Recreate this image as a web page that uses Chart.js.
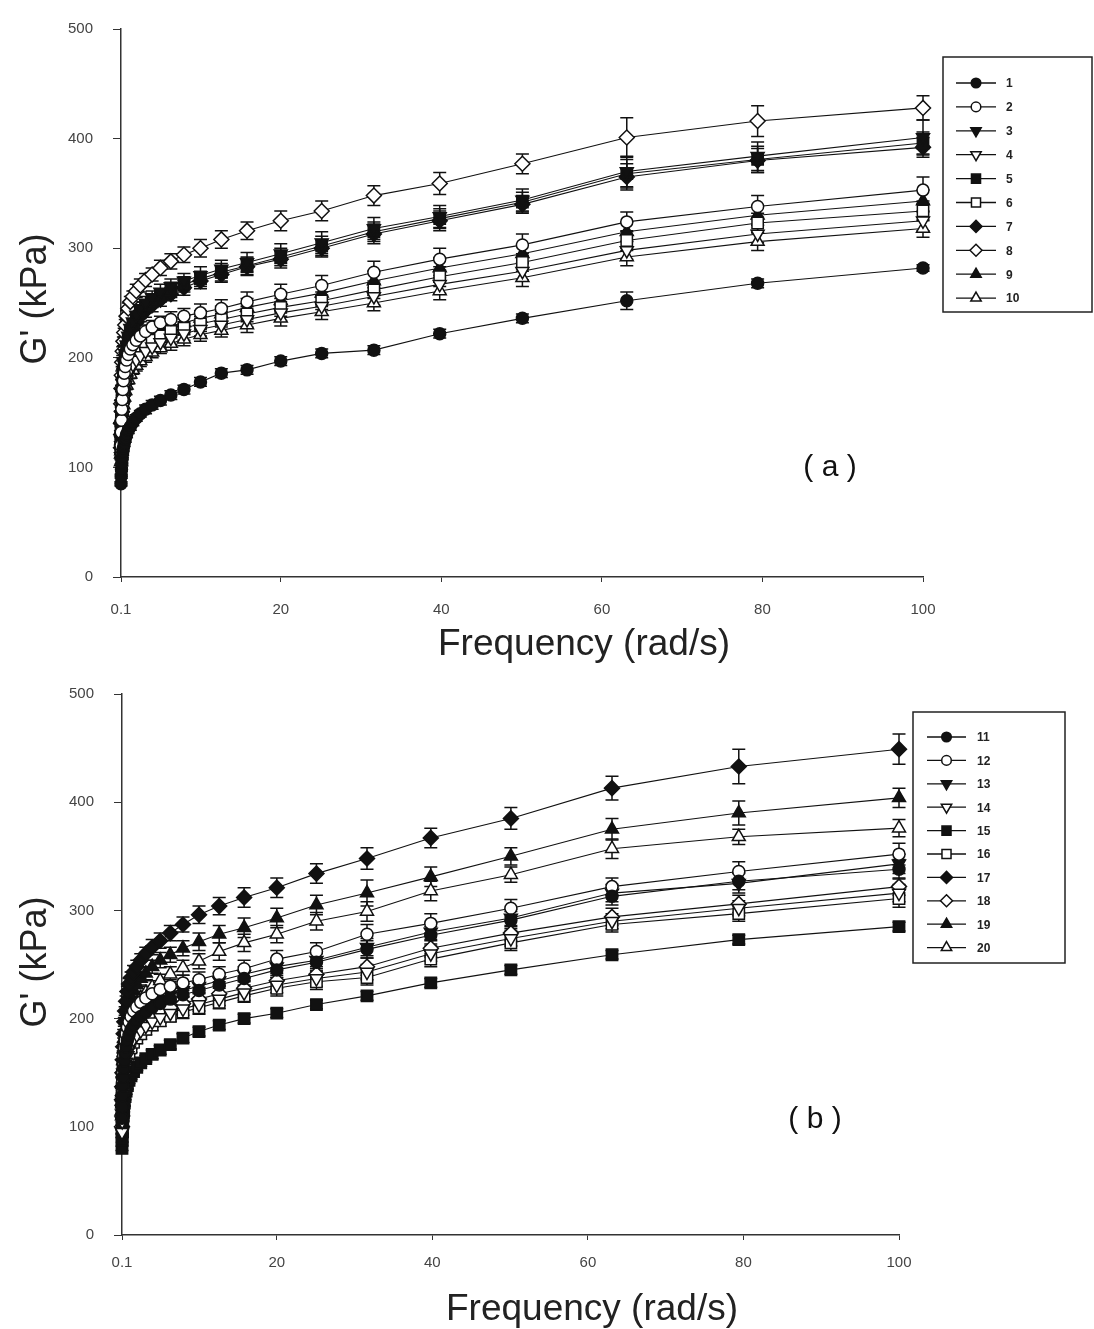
<!DOCTYPE html>
<html>
<head>
<meta charset="utf-8">
<script src="https://cdn.jsdelivr.net/npm/chart.js@4.4.0/dist/chart.umd.min.js"></script>
<style>
html,body{margin:0;padding:0;background:#fff;}
#wrap{position:relative;width:1094px;height:1329px;overflow:hidden;background:#fff;}
canvas{position:absolute;left:0;}
#c1{top:0;}
#c2{top:665px;}
</style>
</head>
<body>
<div id="wrap">
<canvas id="c1" width="1094" height="665"></canvas>
<canvas id="c2" width="1094" height="664"></canvas>
</div>
<script>
// ---------------- DATA ----------------
const freq = [0.1,0.126,0.158,0.2,0.251,0.316,0.398,0.501,0.631,0.794,1,1.26,1.58,2,2.51,3.16,3.98,5.01,6.31,7.94,10,12.6,15.8,20,25.1,31.6,39.8,50.1,63.1,79.4,100];
const xTicks = [0.1,20,40,60,80,100];
const yTicks = [0,100,200,300,400,500];
const labelsTop = ['1','2','3','4','5','6','7','8','9','10'];
const labelsBottom = ['11','12','13','14','15','16','17','18','19','20'];

// panel (a) G' values (kPa)
const g1  = [85,92,98,104,109,114,118,122,126,130,134,137,141,145,149,153,157,161,166,171,178,186,189,197,204,207,222,236,252,268,282];
const g2  = [120,132,143,153,162,171,179,186,192,198,203,208,212,216,220,224,228,232,235,238,241,245,251,258,266,278,290,303,324,338,353];
const g3  = [125,137,148,158,168,178,187,196,204,212,220,227,233,239,245,250,255,260,265,270,275,281,287,295,305,318,329,344,370,384,401];
const g4  = [110,120,130,139,147,155,162,169,175,180,185,190,194,198,202,206,210,214,218,222,226,230,235,241,247,256,267,279,298,313,325];
const g5  = [122,134,145,155,165,175,184,193,201,209,217,224,230,236,242,247,252,257,262,267,272,278,284,292,302,315,327,342,368,381,396];
const g6  = [115,126,136,145,153,161,168,175,181,186,191,196,200,204,208,212,216,220,224,227,231,235,240,246,252,262,274,287,307,323,334];
const g7  = [118,130,141,151,161,171,180,189,197,205,213,220,226,232,238,243,248,253,258,264,270,276,283,290,300,313,325,340,365,380,392];
const g8  = [140,158,172,184,196,206,215,223,230,238,245,251,256,261,266,271,276,282,288,294,300,308,316,325,334,348,359,377,401,416,428];
const g9  = [112,124,135,145,154,163,171,178,184,190,195,200,205,209,213,217,221,225,229,232,236,240,246,252,259,270,282,295,315,330,343];
const g10 = [105,115,125,134,142,150,157,164,170,175,180,185,189,193,197,201,205,209,213,217,221,225,230,236,242,250,261,273,292,306,318];

// panel (a) error bars (kPa)
const e1  = [2,2,2,2,2,3,3,3,3,3,3,3,3,3,3,4,4,4,4,4,4,4,4,4,4,4,4,4,8,4,3];
const e2  = [3,3,3,3,4,4,4,4,4,5,5,5,5,5,6,6,6,6,7,7,8,8,9,9,9,10,10,10,9,10,12];
const e3  = [3,3,3,3,4,4,4,4,4,5,5,5,5,5,6,6,6,7,7,7,8,8,9,9,10,10,10,10,14,13,16];
const e4  = [2,2,3,3,3,3,4,4,4,4,4,4,5,5,5,5,5,6,6,6,6,7,7,7,8,8,8,8,8,8,9];
const e5  = [3,3,3,3,4,4,4,4,4,4,5,5,5,5,5,6,6,6,7,7,7,8,8,8,9,9,9,9,13,12,10];
const e6  = [3,3,3,3,3,4,4,4,4,4,4,5,5,5,5,5,6,6,6,6,7,7,7,8,8,8,9,8,9,9,9];
const e7  = [3,3,3,3,3,4,4,4,4,4,5,5,5,5,5,6,6,6,6,7,7,7,8,8,8,9,9,8,12,11,9];
const e8  = [3,3,3,4,4,4,4,4,5,5,5,5,5,6,6,6,6,7,7,7,8,8,8,9,9,9,10,9,18,14,11];
const e9  = [3,3,3,3,3,4,4,4,4,4,5,5,5,5,5,5,6,6,6,7,7,7,8,8,8,9,9,9,9,9,10];
const e10 = [2,2,3,3,3,3,3,4,4,4,4,4,4,5,5,5,5,5,6,6,6,6,7,7,7,7,8,8,8,8,8];

// panel (b) G' values (kPa)
const g11 = [108,119,129,138,146,154,161,168,174,180,185,190,194,198,202,206,210,214,218,222,226,231,237,245,252,264,277,291,313,327,338];
const g12 = [120,131,141,150,158,166,173,180,186,192,197,202,207,211,215,219,223,227,230,233,236,241,246,255,262,278,288,302,322,336,352];
const g13 = [112,123,133,142,150,158,165,172,178,184,189,194,198,202,206,210,214,218,222,226,230,235,241,248,254,266,280,293,316,325,343];
const g14 = [95,105,115,124,132,140,147,154,160,166,171,176,181,185,189,193,197,201,205,209,213,218,224,231,237,243,260,274,290,302,316];
const g15 = [80,88,96,103,110,116,122,128,133,138,143,147,151,155,159,163,167,171,176,182,188,194,200,205,213,221,233,245,259,273,285];
const g16 = [92,102,112,121,129,137,144,151,157,163,168,173,178,182,186,190,194,198,202,206,210,215,221,228,234,238,255,270,287,297,311];
const g17 = [125,137,150,162,174,186,197,207,216,225,232,238,243,248,254,260,266,272,279,287,296,304,312,321,334,348,367,385,413,433,449];
const g18 = [100,110,120,129,137,145,152,159,165,171,176,181,186,190,194,198,202,206,210,214,218,223,228,235,241,248,265,279,294,306,322];
const g19 = [115,127,139,150,161,172,182,191,199,207,214,220,226,231,237,242,248,254,259,265,271,278,284,293,305,316,331,350,375,390,404];
const g20 = [110,121,132,142,152,161,170,178,185,192,198,204,209,214,219,224,229,235,241,247,253,262,270,278,290,299,318,333,357,368,376];

// panel (b) error bars (kPa)
const e11 = [3,3,3,3,3,3,4,4,4,4,4,5,5,5,5,5,6,6,6,6,7,7,7,7,8,8,8,8,8,8,9];
const e12 = [3,3,3,3,3,4,4,4,4,4,5,5,5,5,5,6,6,6,6,7,7,7,8,8,8,9,9,8,8,9,10];
const e13 = [3,3,3,3,3,3,4,4,4,4,4,5,5,5,5,5,6,6,6,6,7,7,7,8,8,8,8,8,8,9,9];
const e14 = [2,2,3,3,3,3,3,4,4,4,4,4,5,5,5,5,5,5,6,6,6,6,7,7,7,7,7,7,7,7,8];
const e15 = [2,2,2,2,2,2,3,3,3,3,3,3,3,3,3,3,4,4,4,4,4,4,4,4,4,4,4,4,4,4,4];
const e16 = [2,2,2,3,3,3,3,3,4,4,4,4,4,5,5,5,5,5,5,6,6,6,6,7,7,7,7,7,7,7,8];
const e17 = [3,3,3,3,4,4,4,4,5,5,5,5,6,6,6,6,7,7,7,7,8,8,9,9,9,10,9,10,11,16,14];
const e18 = [2,2,3,3,3,3,3,4,4,4,4,4,5,5,5,5,5,6,6,6,6,7,7,7,7,8,8,7,8,8,8];
const e19 = [3,3,3,3,4,4,4,4,4,5,5,5,5,6,6,6,6,7,7,7,8,8,9,9,9,12,9,8,10,11,9];
const e20 = [3,3,3,3,3,4,4,4,4,4,5,5,5,5,6,6,6,6,7,7,7,8,8,8,8,9,9,7,9,7,8];

const valuesTop = [g1,g2,g3,g4,g5,g6,g7,g8,g9,g10];
const errorsTop = [e1,e2,e3,e4,e5,e6,e7,e8,e9,e10];
const valuesBottom = [g11,g12,g13,g14,g15,g16,g17,g18,g19,g20];
const errorsBottom = [e11,e12,e13,e14,e15,e16,e17,e18,e19,e20];

// ---------------- STYLE ----------------
const INK = '#111';
const FONT = "'Liberation Sans', Arial, Helvetica, sans-serif";
// ● ○ ▼ ▽ ■ □ ◆ ◇ ▲ △
const markers = [
  {style:'circle',   rot:0,   fill:true,  r:6},
  {style:'circle',   rot:0,   fill:false, r:6},
  {style:'triangle', rot:180, fill:true,  r:7.5},
  {style:'triangle', rot:180, fill:false, r:7.5},
  {style:'rect',     rot:0,   fill:true,  r:8},
  {style:'rect',     rot:0,   fill:false, r:8},
  {style:'rectRot',  rot:0,   fill:true,  r:7.5},
  {style:'rectRot',  rot:0,   fill:false, r:7.5},
  {style:'triangle', rot:0,   fill:true,  r:7.5},
  {style:'triangle', rot:0,   fill:false, r:7.5}
];

function drawMarker(ctx, m, x, y, r){
  ctx.save();
  ctx.translate(x, y);
  ctx.rotate(m.rot * Math.PI / 180);
  ctx.beginPath();
  if (m.style === 'circle') {
    ctx.arc(0, 0, r, 0, Math.PI * 2);
  } else if (m.style === 'rect') {
    const s = r * Math.SQRT1_2;
    ctx.rect(-s, -s, 2 * s, 2 * s);
  } else if (m.style === 'rectRot') {
    ctx.moveTo(0, -r); ctx.lineTo(r, 0); ctx.lineTo(0, r); ctx.lineTo(-r, 0); ctx.closePath();
  } else if (m.style === 'triangle') {
    const a = Math.PI / 6;
    ctx.moveTo(0, -r);
    ctx.lineTo(r * Math.cos(a), r * Math.sin(a));
    ctx.lineTo(-r * Math.cos(a), r * Math.sin(a));
    ctx.closePath();
  }
  ctx.fillStyle = m.fill ? INK : '#fff';
  ctx.fill();
  ctx.lineWidth = 1.5;
  ctx.strokeStyle = INK;
  ctx.stroke();
  ctx.restore();
}

const errorBarPlugin = {
  id: 'errorBars',
  beforeDatasetsDraw(chart) {
    const ctx = chart.ctx;
    const ys = chart.scales.y;
    ctx.save();
    ctx.strokeStyle = INK;
    ctx.lineWidth = 1.5;
    chart.data.datasets.forEach((ds, i) => {
      const meta = chart.getDatasetMeta(i);
      meta.data.forEach((pt, j) => {
        const v = ds.data[j].y, e = ds.errors[j];
        const yt = ys.getPixelForValue(v + e), yb = ys.getPixelForValue(v - e);
        const x = pt.x, cw = 6.5;
        ctx.beginPath();
        ctx.moveTo(x, yt); ctx.lineTo(x, yb);
        ctx.moveTo(x - cw, yt); ctx.lineTo(x + cw, yt);
        ctx.moveTo(x - cw, yb); ctx.lineTo(x + cw, yb);
        ctx.stroke();
      });
    });
    ctx.restore();
  }
};

const decorPlugin = {
  id: 'decor',
  afterDraw(chart, args, o) {
    const ctx = chart.ctx;
    ctx.save();
    ctx.fillStyle = '#222';
    ctx.textAlign = 'center';
    ctx.textBaseline = 'middle';
    ctx.font = o.xTitleFont + 'px ' + FONT;
    ctx.fillText('Frequency (rad/s)', o.xTitle[0], o.xTitle[1]);
    ctx.save();
    ctx.translate(o.yTitle[0], o.yTitle[1]);
    ctx.rotate(-Math.PI / 2);
    ctx.font = o.yTitleFont + 'px ' + FONT;
    ctx.fillText("G' (kPa)", 0, 0);
    ctx.restore();
    ctx.font = o.tagFont + 'px ' + FONT;
    ctx.fillStyle = '#111';
    ctx.fillText(o.tag, o.tagPos[0], o.tagPos[1]);
    const L = o.legend;
    ctx.strokeStyle = '#222';
    ctx.lineWidth = 1.5;
    ctx.strokeRect(L.left, L.top, L.right - L.left, L.bottom - L.top);
    chart.data.datasets.forEach((ds, i) => {
      const y = L.row0 + i * L.step;
      ctx.beginPath();
      ctx.lineWidth = 1.3;
      ctx.strokeStyle = INK;
      ctx.moveTo(L.lineX0, y); ctx.lineTo(L.lineX1, y);
      ctx.stroke();
      drawMarker(ctx, markers[i], (L.lineX0 + L.lineX1) / 2, y, markers[i].r * 0.8);
      ctx.fillStyle = '#222';
      ctx.textAlign = 'left';
      ctx.font = 'bold 12px ' + FONT;
      ctx.fillText(ds.label, L.textX, y + 1);
    });
    ctx.restore();
  }
};

function makePanel(canvasId, values, errors, labels, geo) {
  const datasets = values.map((vals, i) => {
    const m = markers[i];
    return {
      label: labels[i],
      data: freq.map((f, j) => ({x: f, y: vals[j]})),
      errors: errors[i],
      showLine: true,
      clip: false,
      borderColor: INK,
      borderWidth: 1.1,
      pointStyle: m.style,
      pointRotation: m.rot,
      pointRadius: m.r,
      pointBorderWidth: 1.5,
      pointBorderColor: INK,
      pointBackgroundColor: m.fill ? INK : '#fff',
      tension: 0
    };
  });
  const tickFont = {family: FONT, size: 15};
  return new Chart(document.getElementById(canvasId), {
    type: 'scatter',
    data: {datasets},
    plugins: [errorBarPlugin, decorPlugin],
    options: {
      responsive: false,
      animation: false,
      devicePixelRatio: 1,
      layout: {padding: {left: 0, right: geo.padRight, top: geo.padTop, bottom: 0}},
      plugins: {
        legend: {display: false},
        tooltip: {enabled: false},
        decor: geo.decor
      },
      scales: {
        x: {
          type: 'linear', min: 0.1, max: 100,
          afterBuildTicks: (s) => { s.ticks = xTicks.map(v => ({value: v})); },
          afterFit: (s) => { s.height = geo.xAxisH; },
          ticks: {font: tickFont, color: '#444', padding: geo.xPad, autoSkip: false, maxRotation: 0,
                  callback: (v) => String(v)},
          grid: {display: true, drawOnChartArea: false, drawTicks: true, tickLength: 5, color: '#333', lineWidth: 1},
          border: {display: true, color: '#333', width: 1.5}
        },
        y: {
          type: 'linear', min: 0, max: 500,
          afterBuildTicks: (s) => { s.ticks = yTicks.map(v => ({value: v})); },
          afterFit: (s) => { s.width = geo.yAxisW; },
          ticks: {font: tickFont, color: '#444', padding: 20},
          grid: {display: true, drawOnChartArea: false, drawTicks: true, tickLength: 8, color: '#333', lineWidth: 1},
          border: {display: true, color: '#333', width: 1.5}
        }
      }
    }
  });
}

makePanel('c1', valuesTop, errorsTop, labelsTop, {
  padRight: 1094 - 923, padTop: 22, xAxisH: 665 - 577, yAxisW: 121, xPad: 19,
  decor: {
    xTitle: [584, 645], xTitleFont: 37,
    yTitle: [36, 299], yTitleFont: 36,
    tag: '( a )', tagPos: [830, 468], tagFont: 30,
    legend: {left: 943, top: 57, right: 1092, bottom: 312, row0: 83, step: 23.9, lineX0: 956, lineX1: 996, textX: 1006}
  }
});

makePanel('c2', valuesBottom, errorsBottom, labelsBottom, {
  padRight: 1094 - 899, padTop: 29, xAxisH: 664 - 570, yAxisW: 122, xPad: 14,
  decor: {
    xTitle: [592, 645], xTitleFont: 37,
    yTitle: [36, 297], yTitleFont: 36,
    tag: '( b )', tagPos: [815, 455], tagFont: 30,
    legend: {left: 913, top: 47, right: 1065, bottom: 298, row0: 72, step: 23.4, lineX0: 927, lineX1: 966, textX: 977}
  }
});
</script>
</body>
</html>
